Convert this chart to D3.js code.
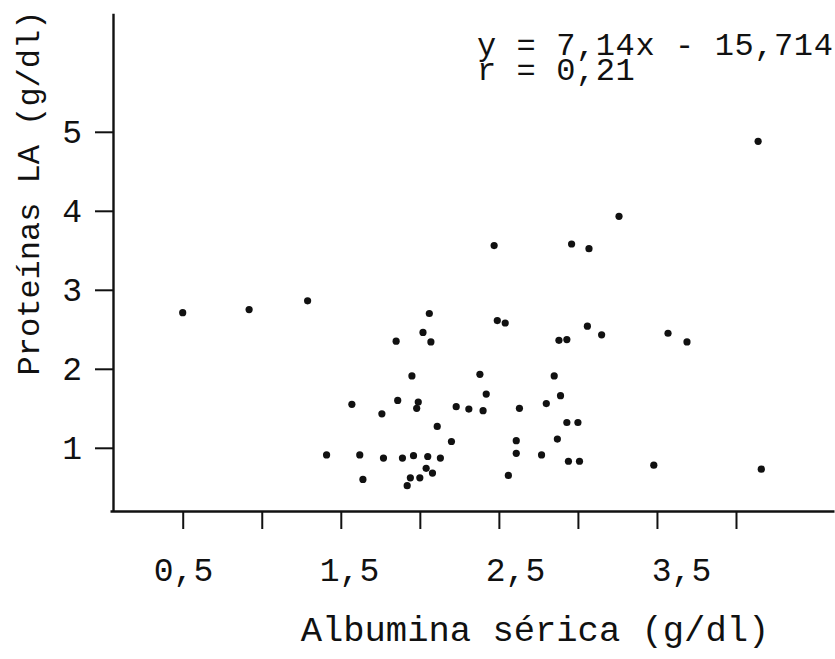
<!DOCTYPE html>
<html>
<head>
<meta charset="utf-8">
<script src="https://cdn.jsdelivr.net/npm/d3@7"></script>
<style>
  body { margin: 0; background: #fff; }
  text { font-family: 'Liberation Mono', 'Courier New', monospace; fill: #111; }
</style>
</head>
<body>
<div id="chart"></div>
<script>
// Albumina serica (x) vs Proteinas LA (y)
const albumina = [
  0.5, 0.92, 1.29, 1.41, 1.57, 1.62, 1.64, 1.76, 1.77, 1.85,
  1.86, 1.89, 1.92, 1.94, 1.95, 1.96, 1.98, 1.99, 2.0, 2.02,
  2.04, 2.05, 2.06, 2.07, 2.08, 2.11, 2.13, 2.2, 2.23, 2.31,
  2.38, 2.4, 2.42, 2.47, 2.49, 2.54, 2.56, 2.61, 2.61, 2.63,
  2.77, 2.8, 2.85, 2.87, 2.88, 2.89, 2.93, 2.93, 2.94, 2.96,
  3.0, 3.01, 3.06, 3.07, 3.15, 3.26, 3.48, 3.57, 3.69, 4.14,
  4.16,
]
const proteinas = [
  2.71, 2.75, 2.86, 0.91, 1.55, 0.91, 0.6, 1.43, 0.87, 2.35,
  1.6, 0.87, 0.52, 0.62, 1.91, 0.9, 1.5, 1.58, 0.62, 2.46,
  0.74, 0.89, 2.7, 2.34, 0.68, 1.27, 0.87, 1.08, 1.52, 1.49,
  1.93, 1.47, 1.68, 3.56, 2.61, 2.58, 0.65, 1.09, 0.93, 1.5,
  0.91, 1.56, 1.91, 1.11, 2.36, 1.66, 2.37, 1.32, 0.83, 3.58,
  1.32, 0.83, 2.54, 3.52, 2.43, 3.93, 0.78, 2.45, 2.34, 4.88,
  0.73,
]
const xTicks = [0.5, 1, 1.5, 2, 2.5, 3, 3.5, 4]
// the tick labels were typed as one line, so they sit on their own even spacing
const xTickLabels = ['0,5', '1,5', '2,5', '3,5']
const yTicks = [1, 2, 3, 4, 5]
const equationLines = ['y = 7,14x - 15,714', 'r = 0,21']
const xTitle = 'Albumina sérica (g/dl)'
const yTitle = 'Proteínas LA (g/dl)'

const width = 835
const height = 659
const ink = '#111'
const monoFont = 'Liberation Mono, Courier New, monospace'

const svg = d3
  .select('#chart')
  .append('svg')
  .attr('width', width)
  .attr('height', height)
  .attr('viewBox', `0 0 ${width} ${height}`)

const xScale = d3.scaleLinear().domain([0.04, 4.62]).range([110, 834])
const yScale = d3.scaleLinear().domain([0.2, 6.5]).range([511, 13.3])
const xLabelScale = d3.scalePoint().domain(xTickLabels).range([183, 681])

const data = albumina.map((a, i) => ({ x: a, y: proteinas[i] }))

// x axis (ticks only)
const xAxis = svg
  .append('g')
  .attr('transform', `translate(0, ${yScale(0.2)})`)
  .call(
    d3
      .axisBottom(xScale)
      .tickValues(xTicks)
      .tickSizeInner(18)
      .tickSizeOuter(0)
      .tickFormat(''),
  )

// typed label row under the x axis
const xLabels = svg
  .append('g')
  .attr('transform', `translate(0, ${yScale(0.2)})`)
  .call(d3.axisBottom(xLabelScale).tickSize(0).tickPadding(47))
xLabels.select('.domain').remove()

// y axis
const yAxis = svg
  .append('g')
  .attr('transform', `translate(${xScale(0.04) + 3}, 0)`)
  .call(
    d3
      .axisLeft(yScale)
      .tickValues(yTicks)
      .tickSizeInner(18)
      .tickSizeOuter(0)
      .tickPadding(13)
      .tickFormat(d3.format('d')),
  )

;[xAxis, yAxis].forEach(ax => {
  ax.select('.domain').attr('stroke', ink).attr('stroke-width', 2.4)
  ax.selectAll('.tick line').attr('stroke', ink).attr('stroke-width', 2)
})
;[xLabels, yAxis].forEach(ax => {
  ax.selectAll('.tick text')
    .attr('font-family', monoFont)
    .attr('font-size', 33)
    .attr('fill', ink)
})

// points
svg
  .append('g')
  .selectAll('circle')
  .data(data)
  .join('circle')
  .attr('cx', d => xScale(d.x))
  .attr('cy', d => yScale(d.y))
  .attr('r', 3.6)
  .attr('fill', ink)

// regression note
svg
  .append('g')
  .selectAll('text')
  .data(equationLines)
  .join('text')
  .attr('x', 477)
  .attr('y', (d, i) => 55 + i * 25)
  .attr('font-size', 32)
  .attr('letter-spacing', 0.6)
  .attr('xml:space', 'preserve')
  .text(d => d)

// axis titles
svg
  .append('text')
  .attr('x', 535)
  .attr('y', 641)
  .attr('text-anchor', 'middle')
  .attr('font-size', 35.5)
  .text(xTitle)

svg
  .append('text')
  .attr('transform', 'translate(39, 193) rotate(-90)')
  .attr('text-anchor', 'middle')
  .attr('font-size', 32)
  .text(yTitle)
</script>
</body>
</html>
